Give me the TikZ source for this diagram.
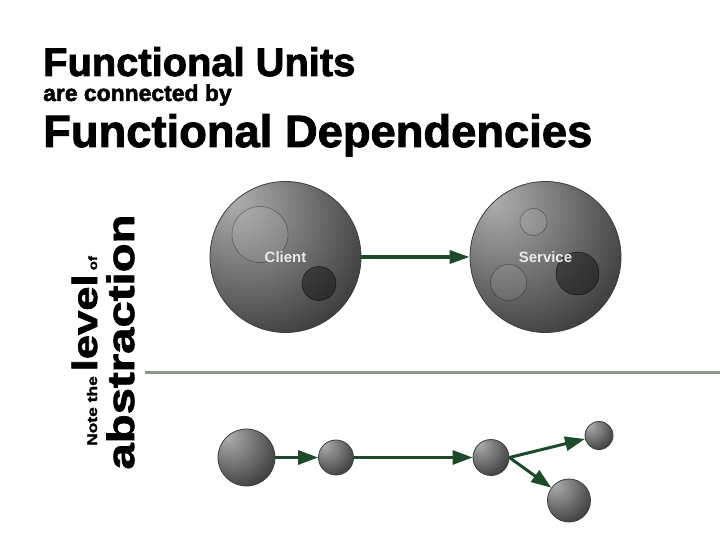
\documentclass[tikz,border=0pt]{standalone}
\usepackage{fontspec}
\setmainfont{Liberation Sans}
\newfontfamily\heavyfont[FakeBold=2]{Liberation Sans}
\newfontfamily\widefont[FakeStretch=1.25,FakeBold=2]{Liberation Sans}
\usetikzlibrary{
  arrows.meta,
}
\definecolor{orbhi}{HTML}{B0B0B0}
\definecolor{orbmid}{HTML}{707070}
\definecolor{orbdark}{HTML}{262626}
\definecolor{orbrim}{HTML}{3A3A3A}
\definecolor{orbline}{HTML}{34433A}
\definecolor{depgreen}{HTML}{1C4A2A}
\definecolor{sepgray}{HTML}{8A998B}
\pgfdeclareradialshading{orb}{\pgfpoint{-18bp}{20bp}}{%
  color(0bp)=(orbhi); color(22bp)=(orbmid); color(47bp)=(orbdark);
  color(62bp)=(orbdark); color(80bp)=(orbrim)}

\begin{document}
\begin{tikzpicture}[x=1bp, y=-1bp,
  orb/.style={circle, draw=orbline, line width=0.8bp, shading=orb,
    inner sep=0pt, minimum size=#1, text=white!92!black,
    font=\bfseries\fontsize{15}{15}\selectfont},
  pale/.style={fill=white, fill opacity=0.08, draw=black, draw opacity=0.35, line width=0.6bp},
  shade/.style={fill=black, fill opacity=0.4, draw=black, draw opacity=0.6, line width=0.6bp},
  dep/.style={-{Triangle[length=20bp,width=13bp]}, line width=3.5bp, draw=depgreen},
  deplow/.style={-{Triangle[length=20bp,width=14bp]}, line width=3bp, draw=depgreen},
  title/.style={anchor=base west, inner sep=0pt, font=\heavyfont\bfseries\fontsize{#1}{#1}\selectfont},
]
\useasboundingbox[fill=white] (0,0) rectangle (720,540);

% headings
\node[title=40] (units) at (43,76) {Functional Units};
\node[title=23] (connected) at (43,101) {are connected by};
\node[title=45.5] (dependencies) at (43,147) {Functional Dependencies};

% side note
\node[rotate=90, anchor=base, inner sep=0pt, font=\widefont\bfseries] (level) at (97,351)
  {{\fontsize{14}{14}\selectfont Note the }{\fontsize{35}{35}\selectfont level}{\fontsize{12}{12}\selectfont\ of}};
\node[rotate=90, anchor=base, inner sep=0pt, font=\widefont\bfseries\fontsize{38}{38}\selectfont]
  (abstraction) at (134,342) {abstraction};

% the two big units
\node[orb=151bp, path picture={
    \path[pale] ([shift={(-25.5,-22.5)}]path picture bounding box.center) circle[radius=28bp];
    \path[shade] ([shift={(33.5,26.5)}]path picture bounding box.center) circle[radius=17bp];
  }] (client) at (285.5,257) {Client};
\node[orb=151bp, path picture={
    \path[pale] ([shift={(-12,-35)}]path picture bounding box.center) circle[radius=13.5bp];
    \path[pale] ([shift={(-37,25.5)}]path picture bounding box.center) circle[radius=18bp];
    \path[shade] ([shift={(32,16.5)}]path picture bounding box.center) circle[radius=21.5bp];
  }] (service) at (545.5,257) {Service};
\draw[dep] (client) -- (service);

\draw[sepgray, line width=2.5bp] (145,372.5) -- (720,372.5);

% small units below the line
\node[orb=57bp] (u1) at (246.5,457.5) {};
\node[orb=35bp] (u2) at (336,457.5) {};
\node[orb=36bp] (u3) at (491,457.5) {};
\node[orb=28bp] (u4) at (599,435.5) {};
\node[orb=43bp] (u5) at (569,500.5) {};
\draw[deplow] (u1) -- (u2);
\draw[deplow] (u2) -- (u3);
\draw[deplow] (u3.east) -- (u4);
\draw[deplow] (u3.east) -- (u5);
\end{tikzpicture}
\end{document}
